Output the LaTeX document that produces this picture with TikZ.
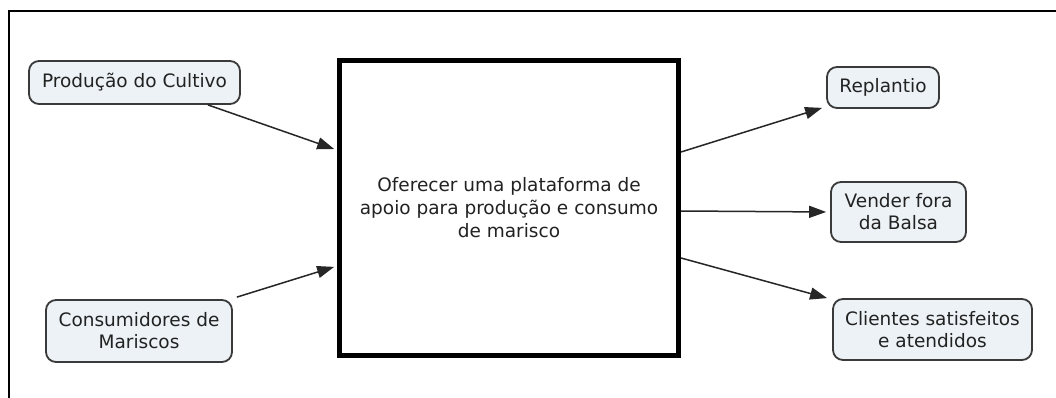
\documentclass[tikz,border=0pt]{standalone}
\usepackage{fontspec}
\setmainfont{DejaVu Sans}
\usetikzlibrary{arrows.meta}
\definecolor{nodefill}{HTML}{ECF2F5}
\definecolor{nodeline}{HTML}{3A3A3A}
\definecolor{txt}{HTML}{222222}
\tikzset{
  concept/.style={draw=nodeline, fill=nodefill, line width=1.8pt, rounded corners=10pt,
    align=center, text=txt, inner sep=0pt, font=\fontsize{18.5}{22}\selectfont},
  mainbox/.style={draw=black, fill=white, line width=5pt, align=center, text=txt,
    inner sep=0pt, font=\fontsize{18.5}{23}\selectfont},
  link/.style={line width=1.5pt, draw=black!85, -{Triangle[length=17pt,width=12pt]}}
}
\begin{document}
\begin{tikzpicture}[x=1pt,y=-1pt]
\useasboundingbox (0,0) rectangle (1056,398);
\fill[white] (0,0) rectangle (1056,398);
\draw[line width=2pt] (9,398) -- (9,11) -- (1056,11);

\node[mainbox, minimum width=339pt, minimum height=295pt] (main) at (509,208)
  {Oferecer uma plataforma de\\apoio para produção e consumo\\de marisco};

\node[concept, minimum width=211pt, minimum height=43pt] (prod) at (134.5,82.5) {Produção do Cultivo};
\node[concept, minimum width=186pt, minimum height=62pt] (cons) at (139,331) {Consumidores de\\Mariscos};
\node[concept, minimum width=112pt, minimum height=41pt] (repl) at (883,87.5) {Replantio};
\node[concept, minimum width=135pt, minimum height=60pt] (vend) at (898.5,212) {Vender fora\\da Balsa};
\node[concept, minimum width=199pt, minimum height=61pt] (clie) at (932.5,329.5) {Clientes satisfeitos\\e atendidos};

\draw[link, shorten >=3pt] ([xshift=-33pt]prod.south east) -- ([yshift=58pt]main.west);
\draw[link, shorten >=3pt] ([xshift=4pt,yshift=2pt]cons.north east) -- ([yshift=-58pt]main.west);
\draw[link] ([yshift=56pt]main.east) -- ([xshift=-4pt,yshift=1pt]repl.south west);
\draw[link, shorten >=4pt] ([yshift=-3pt]main.east) -- (vend.west);
\draw[link] ([yshift=-50pt]main.east) -- ([xshift=-5pt]clie.north west);
\end{tikzpicture}
\end{document}
